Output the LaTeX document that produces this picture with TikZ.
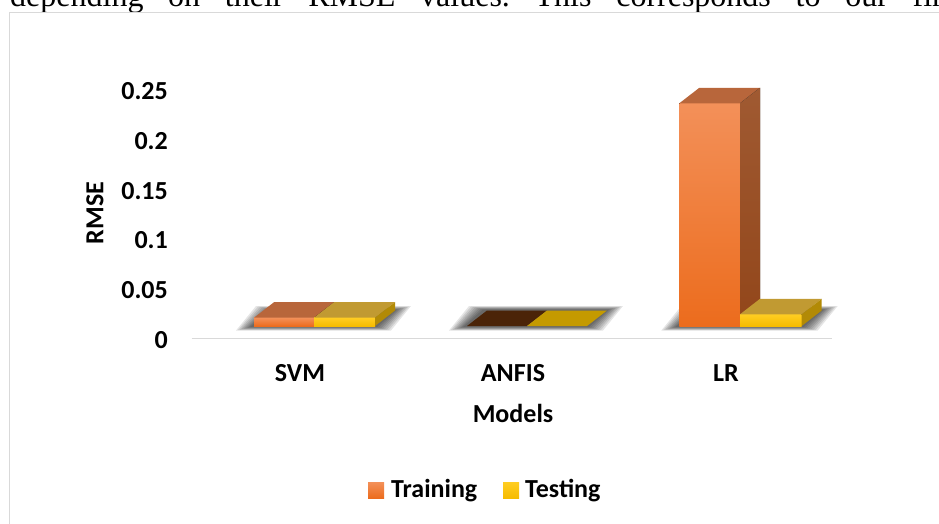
\documentclass[tikz,border=0pt]{standalone}
\usepackage{fontspec}
\setmainfont{Liberation Serif}
\newfontfamily\chartfont{Carlito}
\definecolor{framegray}{HTML}{D9D9D9}
\definecolor{trainfrontA}{HTML}{F39059}
\definecolor{trainfrontB}{HTML}{EC6C1D}
\definecolor{traintopC}{HTML}{B8663B}
\definecolor{trainsideA}{HTML}{A05A32}
\definecolor{trainsideB}{HTML}{92461A}
\definecolor{testfrontA}{HTML}{FFCD22}
\definecolor{testfrontB}{HTML}{F6BC00}
\definecolor{testtopC}{HTML}{C19A32}
\definecolor{testsideC}{HTML}{B28A06}
\definecolor{anfistrain}{HTML}{4B2408}
\definecolor{anfistest}{HTML}{C49A00}
\tikzset{
  chartlabel/.style={font=\chartfont\bfseries\fontsize{26}{31}\selectfont, inner sep=0pt},
  trainfront/.style={top color=trainfrontA, bottom color=trainfrontB},
  traintop/.style={fill=traintopC},
  trainside/.style={top color=trainsideA, bottom color=trainsideB},
  testfront/.style={top color=testfrontA, bottom color=testfrontB},
  testtop/.style={fill=testtopC},
  testside/.style={fill=testsideC},
  shadowlayer/.style={fill=black, fill opacity=0.1},
}
% one 3D column: #1 left x, #2 right x, #3 top y, #4 series (train/test)
\newcommand\barbox[4]{%
  \fill[#4front] (#1,326) rectangle (#2,#3);
  \fill[#4top] (#1,#3) -- (#1+20,#3-15.5) -- (#2+20,#3-15.5) -- (#2,#3) -- cycle;
  \fill[#4side] (#2,326) -- (#2,#3) -- (#2+20,#3-15.5) -- (#2+20,310.5) -- cycle;
}
% soft floor shadow under a cluster spanning #1..#2
\newcommand\floorshadow[2]{%
  \foreach \e in {0,2,...,14}{
    \fill[shadowlayer] (#1-4-\e,327+0.25*\e) -- (#2+2+\e,327+0.25*\e)
      -- (#2+22+\e,309.5-0.25*\e) -- (#1+16-\e,309.5-0.25*\e) -- cycle;
  }%
}
\begin{document}
\begin{tikzpicture}[x=1pt,y=-1pt]
\useasboundingbox (0,0) rectangle (939,523);
\clip (0,0) rectangle (939,523);

% running text line above the chart
\node[anchor=base west, inner sep=0pt, font=\fontsize{32}{38}\selectfont] (para) at (10,6.5)
  {\hbox to 938pt{depending\hfill on\hfill their\hfill RMSE\hfill values.\hfill This\hfill corresponds\hfill to\hfill our\hfill fin}};

% chart area
\draw[framegray, line width=1.3pt, fill=white] (9.5,12.7) rectangle (980,560);

% value axis labels
\foreach \v/\lab in {0/0,1/0.05,2/0.1,3/0.15,4/0.2,5/0.25}{
  \node[chartlabel, anchor=east] (tick\v) at (168,{340-49.8*\v}) {\lab};
}
\node[chartlabel, rotate=90] (ytitle) at (95,213) {RMSE};

% category axis
\draw[framegray, line width=1.3pt] (191.7,338.3) -- (831.7,338.3);

% shadows
\floorshadow{254}{375}
\floorshadow{467}{587}
\floorshadow{679.3}{801.7}

% SVM
\barbox{254}{314}{317.7}{train}
\barbox{314}{375}{317.7}{test}

% ANFIS (zero height)
\fill[anfistrain] (467,326) -- (527,326) -- (547,310.5) -- (487,310.5) -- cycle;
\fill[anfistest] (527,326) -- (587,326) -- (607,310.5) -- (547,310.5) -- cycle;

% LR
\barbox{679.3}{740}{103.3}{train}
\barbox{740}{801.7}{314.3}{test}

% category labels and axis title
\node[chartlabel] (svm) at (300,373) {SVM};
\node[chartlabel] (anfis) at (513,373) {ANFIS};
\node[chartlabel] (lr) at (726,373) {LR};
\node[chartlabel] (xtitle) at (513,413) {Models};

% legend
\fill[top color=trainfrontA, bottom color=trainfrontB] (368,482) rectangle (384,498);
\node[chartlabel, anchor=base west] (legtrain) at (391,497.5) {Training};
\fill[top color=testfrontA, bottom color=testfrontB] (503,482) rectangle (519,498);
\node[chartlabel, anchor=base west] (legtest) at (525,497.5) {Testing};
\end{tikzpicture}
\end{document}
